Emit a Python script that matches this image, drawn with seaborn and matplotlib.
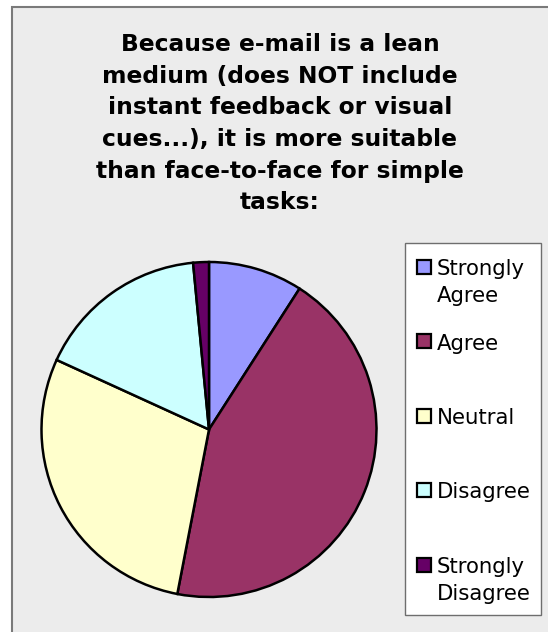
import matplotlib
matplotlib.use("Agg")
import matplotlib.pyplot as plt
from matplotlib.patches import Rectangle
import seaborn as sns

# Survey responses
categories = ["Strongly\nAgree", "Agree", "Neutral", "Disagree", "Strongly\nDisagree"]
responses = [6, 29, 19, 11, 1]
slice_colors = ["#9999ff", "#993366", "#ffffcc", "#ccffff", "#660066"]
title = ("Because e-mail is a lean\n"
         "medium (does NOT include\n"
         "instant feedback or visual\n"
         "cues...), it is more suitable\n"
         "than face-to-face for simple\n"
         "tasks:")

sns.set_style("white")
plt.rcParams["font.family"] = ["DejaVu Sans"]
palette = sns.color_palette(slice_colors)

W, H = 548, 632
fig = plt.figure(figsize=(W / 100, H / 100), dpi=100)
fig.patch.set_facecolor("white")


def fx(px):
    return px / W


def fy(py):
    return 1 - py / H


# grey chart area with a border on its left and top edges
fig.patches.append(Rectangle((fx(12), -0.1), 1.2, fy(7) + 0.1,
                             transform=fig.transFigure, figure=fig,
                             facecolor="#ececec", edgecolor="#7a7a7a",
                             linewidth=1.5, zorder=-5))

# pie
cx, cy, r = 209, 429.5, 167.5
ax = fig.add_axes([fx(cx - r), fy(cy + r), 2 * r / W, 2 * r / H])
ax.set_zorder(2)
ax.pie(responses, colors=palette, startangle=90, counterclock=False,
       wedgeprops=dict(edgecolor="black", linewidth=1.8))
ax.set_xlim(-1, 1)
ax.set_ylim(-1, 1)
ax.set_facecolor("none")
ax.axis("off")

# title
fig.text(fx(280), fy(33), title, ha="center", va="top",
         fontsize=16.8, fontweight="bold", linespacing=1.48, color="black")

# legend
fig.patches.append(Rectangle((fx(405), fy(615)), fx(541) - fx(405), fy(243) - fy(615),
                             transform=fig.transFigure, figure=fig,
                             facecolor="white", edgecolor="#6e6e6e",
                             linewidth=1.0, zorder=1))
first_y, step, sq = 266.5, 74.5, 14
for i, (label, color) in enumerate(zip(categories, palette)):
    y = first_y + step * i
    fig.patches.append(Rectangle((fx(424 - sq / 2), fy(y + sq / 2)), sq / W, sq / H,
                                 transform=fig.transFigure, figure=fig,
                                 facecolor=color, edgecolor="black",
                                 linewidth=1.6, zorder=2))
    fig.text(fx(437), fy(y - 7.5), label, ha="left", va="top",
             fontsize=15.3, linespacing=1.42, color="black", zorder=3)

fig.savefig("out.png", dpi=100)
